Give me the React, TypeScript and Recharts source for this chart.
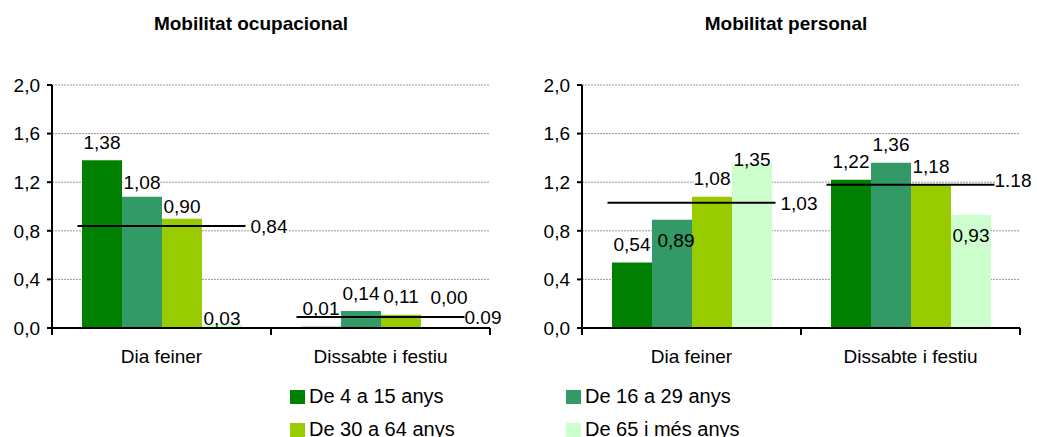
import React from 'react';
import { ComposedChart, Bar, Line, XAxis, YAxis, CartesianGrid, LabelList } from 'recharts';

const categories = ['Dia feiner', 'Dissabte i festiu'];
const seriesNames = ['De 4 a 15 anys', 'De 16 a 29 anys', 'De 30 a 64 anys', 'De 65 i més anys'];
const seriesColors = ['#008000', '#339966', '#99CC00', '#CCFFCC'];

// Mobilitat ocupacional
const ocup4a15 = [1.38, 0.01];
const ocup16a29 = [1.08, 0.14];
const ocup30a64 = [0.9, 0.11];
const ocup65 = [0.03, 0.0];
const ocupAvg = [0.84, 0.09];
const ocupAvgLabels = ['0,84', '0.09'];

// Mobilitat personal
const pers4a15 = [0.54, 1.22];
const pers16a29 = [0.89, 1.36];
const pers30a64 = [1.08, 1.18];
const pers65 = [1.35, 0.93];
const persAvg = [1.03, 1.18];
const persAvgLabels = ['1,03', '1.18'];

const yTicks = [0, 0.4, 0.8, 1.2, 1.6, 2.0];

// small hand nudges for labels that Excel moved around (dx, dy in px)
const labelNudges: Record<string, [number, number]> = {
  'ocup-1-0': [0, 4],
  'ocup-2-0': [0, 6],
  'ocup-3-0': [0, 12],
  'ocup-3-1': [8, -13],
  'ocup-avg-1': [-5, 0],
  'pers-1-0': [4, 38],
  'pers-3-0': [0, 13],
  'pers-3-1': [0, 38],
  'pers-avg-1': [-5, -4],
};

const FONT = '"Liberation Sans", Arial, Helvetica, sans-serif';
const fmt = (v: number) => v.toFixed(1).replace('.', ',');
const fmt2 = (v: number) => v.toFixed(2).replace('.', ',');

function buildRows(series: number[][], avg: number[]) {
  return categories.map((cat, i) => ({
    cat,
    s0: series[0][i],
    s1: series[1][i],
    s2: series[2][i],
    s3: series[3][i],
    avg: avg[i],
  }));
}

const ocupRows = buildRows([ocup4a15, ocup16a29, ocup30a64, ocup65], ocupAvg);
const persRows = buildRows([pers4a15, pers16a29, pers30a64, pers65], persAvg);

function CategoryTick(props: any) {
  const { x, y, payload, index, visibleTicksCount } = props;
  const half = payload?.offset || 109;
  return (
    <g>
      <line x1={x - half} x2={x - half} y1={y} y2={y + 7} stroke="#000" strokeWidth={2} />
      {index === visibleTicksCount - 1 && (
        <line x1={x + half} x2={x + half} y1={y} y2={y + 7} stroke="#000" strokeWidth={2} />
      )}
      <text x={x} y={y + 22} dy="0.71em" textAnchor="middle" fontSize={19} fill="#000">
        {payload.value}
      </text>
    </g>
  );
}

function makeBarLabel(chartId: string, s: number) {
  return (props: any) => {
    const { x, y, width, height, value, index } = props;
    const [ndx, ndy] = labelNudges[`${chartId}-${s}-${index}`] ?? [0, 0];
    // top of the bar (height may come in negative for upward bars)
    const top = Math.min(Number(y), Number(y) + Number(height || 0));
    const cx = Number(x) + Number(width) / 2 + ndx;
    const cy = top - 18 + ndy;
    const showBg = cy + 8 < top;
    return (
      <g>
        {showBg && <rect x={cx - 18} y={cy - 7} width={36} height={14} fill="#fff" />}
        <text x={cx} y={cy} dy="0.35em" textAnchor="middle" fontSize={19} fill="#000">
          {fmt2(Number(value))}
        </text>
      </g>
    );
  };
}

function makeAvgMark(chartId: string, labels: string[]) {
  return (props: any) => {
    const { cx, cy, index } = props;
    if (cx == null || cy == null) return <g key={`avg-${index}`} />;
    const half = 84;
    const [ndx, ndy] = labelNudges[`${chartId}-avg-${index}`] ?? [0, 0];
    const tx = cx + half + 5 + ndx;
    const ty = cy + ndy;
    return (
      <g key={`avg-${index}`}>
        <rect x={tx + 1} y={ty - 8} width={37} height={16} fill="#fff" />
        <line x1={cx - half} x2={cx + half} y1={cy} y2={cy} stroke="#000" strokeWidth={2} />
        <text x={tx} y={ty} dy="0.35em" fontSize={19} fill="#000">
          {labels[index]}
        </text>
      </g>
    );
  };
}

interface MobilityChartProps {
  id: string;
  rows: any[];
  avgLabels: string[];
  width: number;
  yAxisWidth: number;
  marginRight: number;
}

function MobilityChart({ id, rows, avgLabels, width, yAxisWidth, marginRight }: MobilityChartProps) {
  return (
    <ComposedChart
      width={width}
      height={380}
      data={rows}
      margin={{ top: 85, right: marginRight, bottom: 22, left: 0 }}
      barGap={0}
      barCategoryGap="13.7%"
    >
      <CartesianGrid horizontal vertical={false} stroke="#999" strokeDasharray="2 1" />
      <XAxis
        dataKey="cat"
        height={30}
        interval={0}
        tickSize={0}
        tickMargin={0}
        tickLine={false}
        axisLine={{ stroke: '#000', strokeWidth: 2 }}
        tick={<CategoryTick />}
      />
      <YAxis
        width={yAxisWidth}
        domain={[0, 2]}
        ticks={yTicks}
        tickFormatter={fmt}
        tickSize={5}
        tickMargin={7}
        axisLine={{ stroke: '#000', strokeWidth: 2 }}
        tickLine={{ stroke: '#000', strokeWidth: 2 }}
        tick={{ fill: '#000', fontSize: 19 }}
      />
      {seriesColors.map((color, s) => (
        <Bar
          key={s}
          dataKey={`s${s}`}
          name={seriesNames[s]}
          fill={color}
          minPointSize={0.1}
          isAnimationActive={false}
        >
          <LabelList dataKey={`s${s}`} content={makeBarLabel(id, s)} />
        </Bar>
      ))}
      <Line
        dataKey="avg"
        stroke="none"
        legendType="none"
        dot={makeAvgMark(id, avgLabels)}
        activeDot={false}
        isAnimationActive={false}
      />
    </ComposedChart>
  );
}

const legendCols = [290, 566];
const legendRows = [385, 418];

export default function App() {
  return (
    <div
      style={{
        position: 'absolute',
        left: 0,
        top: 0,
        width: 1037,
        height: 437,
        background: '#fff',
        fontFamily: FONT,
        color: '#000',
        overflow: 'hidden',
      }}
    >
      <div style={{ position: 'absolute', left: 101, top: 13, width: 300, textAlign: 'center', fontSize: 19, fontWeight: 'bold' }}>
        Mobilitat ocupacional
      </div>
      <div style={{ position: 'absolute', left: 636, top: 13, width: 300, textAlign: 'center', fontSize: 19, fontWeight: 'bold' }}>
        Mobilitat personal
      </div>

      <div style={{ position: 'absolute', left: 0, top: 0 }}>
        <MobilityChart id="ocup" rows={ocupRows} avgLabels={ocupAvgLabels} width={520} yAxisWidth={52} marginRight={30} />
      </div>
      <div style={{ position: 'absolute', left: 520, top: 0 }}>
        <MobilityChart id="pers" rows={persRows} avgLabels={persAvgLabels} width={517} yAxisWidth={62} marginRight={17} />
      </div>

      {seriesNames.map((name, i) => (
        <div
          key={name}
          style={{
            position: 'absolute',
            left: legendCols[i % 2],
            top: legendRows[Math.floor(i / 2)],
            fontSize: 20,
            lineHeight: 'normal',
            whiteSpace: 'nowrap',
          }}
        >
          <span
            style={{
              position: 'absolute',
              left: 0,
              top: 5,
              width: 15,
              height: 14,
              background: seriesColors[i],
            }}
          />
          <span style={{ position: 'absolute', left: 19, top: 0 }}>{name}</span>
        </div>
      ))}
    </div>
  );
}
